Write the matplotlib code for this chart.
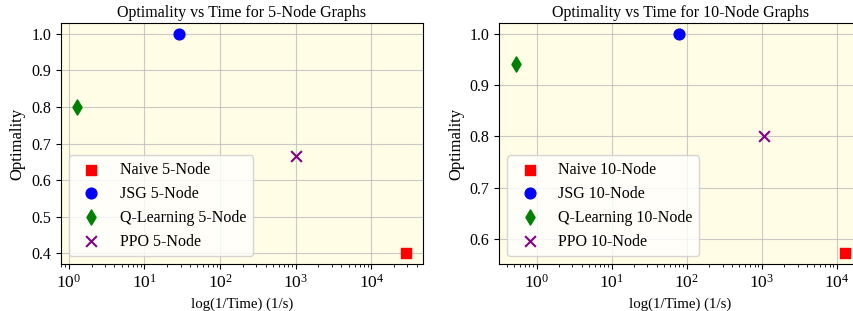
import matplotlib
matplotlib.use("Agg")
import matplotlib.pyplot as plt

plt.rcParams['font.family'] = ['Liberation Serif', 'DejaVu Serif']
plt.rcParams['mathtext.fontset'] = 'stix'

methods = ["Naive", "JSG", "Q-Learning", "PPO"]
markers = ["s", "o", "d", "x"]
colors = ["red", "blue", "green", "purple"]

rate_5 = [29000, 28.5, 1.3, 1000]
opt_5 = [0.40, 1.00, 0.80, 0.667]

rate_10 = [12900, 80, 0.53, 1070]
opt_10 = [0.572, 1.00, 0.942, 0.80]

fig = plt.figure(figsize=(8.54, 3.11), dpi=100)
ax1 = fig.add_axes([0.0714, 0.151, 0.4236, 0.775])
ax2 = fig.add_axes([0.5847, 0.151, 0.4243, 0.775])

for ax, rates, opts, n in [(ax1, rate_5, opt_5, 5), (ax2, rate_10, opt_10, 10)]:
    ax.set_facecolor('#fffde6')
    for m, mk, c, r, o in zip(methods, markers, colors, rates, opts):
        ax.scatter([r], [o], marker=mk, color=c, s=60, label=f"{m} {n}-Node", zorder=3)
    ax.set_xscale('log')
    ax.set_title(f"Optimality vs Time for {n}-Node Graphs", fontsize=11.5, pad=4)
    ax.set_xlabel("log(1/Time) (1/s)", fontsize=10.7)
    ax.set_ylabel("Optimality", fontsize=12)
    ax.tick_params(axis='y', labelsize=11.5)
    ax.tick_params(axis='x', labelsize=12.5)
    ax.grid(True, color='#bdbdbd', linewidth=0.8, alpha=0.8)
    ax.set_axisbelow(True)
    ax.legend(loc='lower left', fontsize=11.5, scatterpoints=1, framealpha=0.8)

fig.savefig("out.png", dpi=100)
